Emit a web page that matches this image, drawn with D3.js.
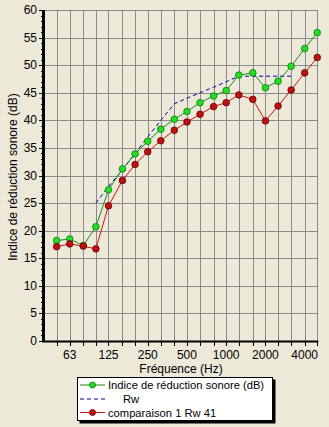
<!DOCTYPE html>
<html><head><meta charset="utf-8">
<script src="https://cdn.jsdelivr.net/npm/d3@7"></script>
<style>
html,body{margin:0;padding:0;background:#ECE9D8;}
svg{display:block;font-family:"Liberation Sans",Arial,sans-serif;}
</style></head><body>
<svg id="c" width="329" height="427"></svg>
<script>
const bands = [50,63,80,100,125,160,200,250,315,400,500,630,800,1000,1250,1600,2000,2500,3150,4000,5000];
const tickLabels = [63,125,250,500,1000,2000,4000];
const indice = [18.2,18.5,17.3,20.7,27.4,31.2,33.9,36.2,38.4,40.2,41.6,43.2,44.4,45.4,48.2,48.6,45.9,47.1,49.8,53.0,55.9];
const comparaison = [17.1,17.6,17.2,16.7,24.5,29.1,32.0,34.3,36.3,38.2,39.7,41.1,42.5,43.2,44.6,43.8,39.9,42.6,45.5,48.6,51.4];
const rwFreq = [100,125,160,200,250,315,400,500,630,800,1000,1250,1600,2000,2500,3150];
const rwVals = [25,28,31,34,37,40,43,44,45,46,47,48,48,48,48,48];
const yTicks = [0,5,10,15,20,25,30,35,40,45,50,55,60];
const seriesNames = ["Indice de réduction sonore (dB)","Rw","comparaison 1 Rw 41"];

const svg = d3.select("#c");
const x = d3.scaleLog().domain([40,5000]).range([44,317.3]);
const y = d3.scaleLinear().domain([0,60]).range([341,10]);
const gridC = "#8a8a8a";

// grid
const g = svg.append("g");
g.selectAll(".vg").data(bands).join("line")
  .attr("x1",d=>Math.round(x(d))+0.5).attr("x2",d=>Math.round(x(d))+0.5)
  .attr("y1",y(60)).attr("y2",y(0)).attr("stroke",gridC).attr("stroke-width",1);
g.selectAll(".hg").data(yTicks.filter(d=>d>0)).join("line")
  .attr("x1",x(40)).attr("x2",x(5000))
  .attr("y1",d=>Math.round(y(d))+0.5).attr("y2",d=>Math.round(y(d))+0.5)
  .attr("stroke",gridC).attr("stroke-width",1);

// y axis
const yMinor = d3.range(0,61,1);
svg.append("g").selectAll("line").data(yMinor).join("line")
  .attr("x1",d=>d%5===0?39:41).attr("x2",44)
  .attr("y1",d=>Math.round(y(d))+0.5).attr("y2",d=>Math.round(y(d))+0.5)
  .attr("stroke","#000").attr("stroke-width",1);
svg.append("g").selectAll("text").data(yTicks).join("text")
  .attr("x",37).attr("y",d=>y(d)+4).attr("text-anchor","end")
  .attr("font-size",12).attr("fill","#000").text(d=>d);
svg.append("line").attr("x1",43.5).attr("x2",43.5).attr("y1",y(60)).attr("y2",y(0)+1)
  .attr("stroke","#000").attr("stroke-width",3);

// x axis
svg.append("g").selectAll("line").data(bands).join("line")
  .attr("x1",d=>Math.round(x(d))+0.5).attr("x2",d=>Math.round(x(d))+0.5)
  .attr("y1",341).attr("y2",346).attr("stroke","#000").attr("stroke-width",1);
svg.append("line").attr("x1",42).attr("x2",x(5000)+1).attr("y1",341.5).attr("y2",341.5)
  .attr("stroke","#000").attr("stroke-width",2);
svg.append("g").selectAll("text").data(tickLabels).join("text")
  .attr("x",d=>x(d)).attr("y",359).attr("text-anchor","middle")
  .attr("font-size",12).attr("fill","#000").text(d=>d);

svg.append("text").attr("x",181).attr("y",373).attr("text-anchor","middle")
  .attr("font-size",12).text("Fréquence (Hz)");
svg.append("text").attr("transform","translate(17,177) rotate(-90)").attr("text-anchor","middle")
  .attr("font-size",12).text("Indice de réduction sonore (dB)");

// lines
const line = d3.line().x(d=>x(d[0])).y(d=>y(d[1]));
const gData = bands.map((f,i)=>[f,indice[i]]);
const rData = bands.map((f,i)=>[f,comparaison[i]]);
const bData = rwFreq.map((f,i)=>[f,rwVals[i]]);
svg.append("path").datum(bData).attr("d",line).attr("fill","none")
  .attr("stroke","#0000a0").attr("stroke-width",1).attr("stroke-dasharray","4,3");
svg.append("path").datum(gData).attr("d",line).attr("fill","none")
  .attr("stroke","#1a8a1a").attr("stroke-width",1);
svg.append("path").datum(rData).attr("d",line).attr("fill","none")
  .attr("stroke","#d01010").attr("stroke-width",1);
svg.append("g").selectAll("circle").data(gData).join("circle")
  .attr("cx",d=>x(d[0])).attr("cy",d=>y(d[1])).attr("r",3.3)
  .attr("fill","#22dd22").attr("stroke","#0a7a0a").attr("stroke-width",0.8);
svg.append("g").selectAll("circle").data(rData).join("circle")
  .attr("cx",d=>x(d[0])).attr("cy",d=>y(d[1])).attr("r",3.3)
  .attr("fill","#c01010").attr("stroke","#600000").attr("stroke-width",0.8);

// legend
const L = svg.append("g");
L.append("rect").attr("x",79.5).attr("y",379.5).attr("width",196).attr("height",44).attr("fill","#000");
L.append("rect").attr("x",77.5).attr("y",377.5).attr("width",195).attr("height",43)
  .attr("fill","#fff").attr("stroke","#000").attr("stroke-width",1);
const rows = [385,399,412.5];
L.append("line").attr("x1",80).attr("x2",105).attr("y1",rows[0]).attr("y2",rows[0]).attr("stroke","#1a8a1a");
L.append("circle").attr("cx",92.5).attr("cy",rows[0]).attr("r",3).attr("fill","#22dd22").attr("stroke","#0a7a0a").attr("stroke-width",0.8);
L.append("line").attr("x1",80).attr("x2",105).attr("y1",rows[1]).attr("y2",rows[1]).attr("stroke","#0000a0").attr("stroke-dasharray","4,3");
L.append("line").attr("x1",80).attr("x2",105).attr("y1",rows[2]).attr("y2",rows[2]).attr("stroke","#d01010");
L.append("circle").attr("cx",92.5).attr("cy",rows[2]).attr("r",3).attr("fill","#c01010").attr("stroke","#600000").attr("stroke-width",0.8);
L.append("text").attr("x",108).attr("y",rows[0]+4).attr("font-size",11.2).text(seriesNames[0]);
L.append("text").attr("x",123).attr("y",rows[1]+4).attr("font-size",11.2).text(seriesNames[1]);
L.append("text").attr("x",108).attr("y",rows[2]+4).attr("font-size",11.2).text(seriesNames[2]);
</script>
</body></html>
